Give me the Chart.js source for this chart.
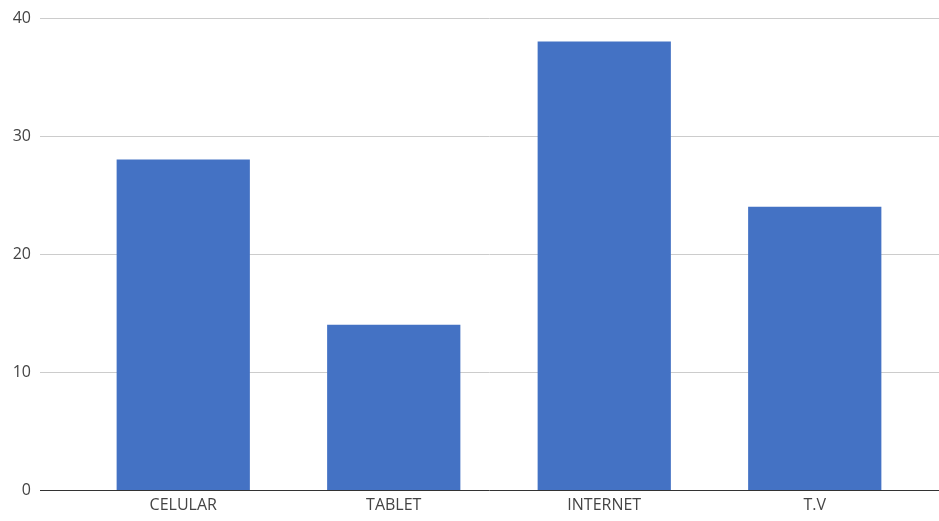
<!DOCTYPE html>
<html>
<head>
<meta charset="utf-8">
<script src="https://cdn.jsdelivr.net/npm/chart.js@4.4.0/dist/chart.umd.min.js"></script>
<style>
  html, body { margin: 0; padding: 0; background: #fff; }
  #wrap { width: 939px; height: 521px; }
</style>
</head>
<body>
<div id="wrap"><canvas id="barChart" width="939" height="521"></canvas></div>
<script>
var categories = ['CELULAR', 'TABLET', 'INTERNET', 'T.V'];
var values = [28, 14, 38, 24];
var yTicks = [0, 10, 20, 30, 40];

// lignes horizontales sur toute la largeur (comme le graphique d'origine)
var wideGrid = {
    id: 'wideGrid',
    beforeDatasetsDraw: function(chart) {
        var ctx = chart.ctx;
        var y = chart.scales.y;
        ctx.save();
        y.ticks.forEach(function(t) {
            var py = Math.round(y.getPixelForValue(t.value)) + 0.5;
            ctx.beginPath();
            ctx.lineWidth = 1;
            ctx.strokeStyle = t.value === 0 ? '#333333' : '#cccccc';
            ctx.moveTo(40, py);
            ctx.lineTo(chart.width, py);
            ctx.stroke();
        });
        ctx.restore();
    }
};

var ctx = document.getElementById('barChart').getContext('2d');
var barChart = new Chart(ctx, {
    type: 'bar',
    data: {
        labels: categories,
        datasets: [{
            label: 'Serie',
            data: values,
            backgroundColor: '#4472c4',
            barPercentage: 0.633,
            categoryPercentage: 1
        }]
    },
    options: {
        responsive: false,
        animation: false,
        layout: { padding: { left: 10, right: 19, top: 18, bottom: 0 } },
        plugins: {
            legend: { display: false },
            tooltip: { enabled: false }
        },
        scales: {
            x: {
                afterFit: function(scale) {
                    scale.height = 31;
                    scale.paddingBottom = 0;
                },
                grid: { display: false, drawTicks: false },
                border: { display: false },
                ticks: { color: '#444', padding: 6, font: { family: 'Open Sans', size: 16 } }
            },
            y: {
                min: 0,
                max: 40,
                afterBuildTicks: function(axis) {
                    axis.ticks = yTicks.map(function(v) { return { value: v }; });
                },
                afterFit: function(scale) {
                    scale.width = 68;
                    scale.paddingTop = 0;
                    scale.paddingBottom = 0;
                },
                grid: { display: false, drawTicks: false },
                border: { display: false },
                ticks: { color: '#444', padding: 47, font: { family: 'Open Sans', size: 16 } }
            }
        }
    },
    plugins: [wideGrid]
});
</script>
</body>
</html>
